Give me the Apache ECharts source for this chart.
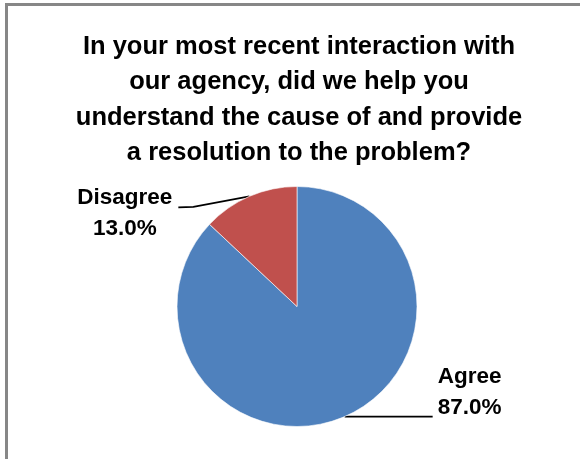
<!DOCTYPE html>
<html>
<head>
<meta charset="utf-8">
<script src="https://cdn.jsdelivr.net/npm/echarts@6/dist/echarts.min.js"></script>
<style>
  html, body { margin: 0; padding: 0; background: #ffffff; }
  #chart { width: 580px; height: 459px; }
</style>
</head>
<body>
<div id="chart"></div>
<script>
// Survey answers and their shares (percent)
const categories = ['Agree', 'Disagree'];
const shares = [87.0, 13.0];
const sliceColors = ['#4F81BD', '#C0504D'];
const titleLines = [
  'In your most recent interaction with',
  'our agency, did we help you',
  'understand the cause of and provide',
  'a resolution to the problem?'
];

const FONT = '"Liberation Sans", Arial, sans-serif';

const chart = echarts.init(document.getElementById('chart'), null, { renderer: 'canvas' });

const option = {
  backgroundColor: '#ffffff',
  animation: false,
  title: {
    text: titleLines.join('\n'),
    left: 299,
    top: 29,
    padding: 0,
    textAlign: 'center',
    textStyle: {
      fontFamily: FONT,
      fontSize: 25.5,
      fontWeight: 'bold',
      color: '#000000',
      lineHeight: 35.5
    }
  },
  graphic: [{
    // chart-area frame (extends past the right and bottom edges)
    type: 'rect',
    silent: true,
    shape: { x: 6.5, y: 4.5, width: 640, height: 520 },
    style: { fill: null, stroke: '#878787', lineWidth: 3 }
  }],
  series: [{
    type: 'pie',
    center: [297, 306.5],
    radius: 120,
    startAngle: 90,
    clockwise: true,
    color: sliceColors,
    itemStyle: { borderColor: '#ffffff', borderWidth: 0.6 },
    label: {
      show: true,
      position: 'outside',
      fontFamily: FONT,
      fontSize: 22.5,
      fontWeight: 'bold',
      color: '#000000',
      lineHeight: 31,
      formatter: p => p.name + '\n' + p.value.toFixed(1) + '%'
    },
    labelLine: {
      show: true,
      length: 0,
      length2: 60,
      lineStyle: { color: '#000000', width: 1.6 }
    },
    labelLayout: function (params) {
      const p0 = params.labelLinePoints[0];
      const w = params.labelRect.width;
      if (params.dataIndex === 0) {
        // right side: straight horizontal leader
        const end = [p0[0] + 88, p0[1]];
        return {
          x: end[0] + 5 + w / 2,
          y: p0[1] - 24,
          align: 'center',
          verticalAlign: 'middle',
          labelLinePoints: [p0, end]
        };
      }
      // left side: angled leader with a short horizontal tail
      const knee = [p0[0] - 56, p0[1] + 10.5];
      const end = [p0[0] - 71, p0[1] + 11];
      return {
        x: end[0] - 6 - w / 2,
        y: end[1] + 5.5,
        align: 'center',
        verticalAlign: 'middle',
        labelLinePoints: [p0, knee, end]
      };
    },
    data: categories.map((name, i) => ({ name: name, value: shares[i] }))
  }]
};

chart.setOption(option);
</script>
</body>
</html>
